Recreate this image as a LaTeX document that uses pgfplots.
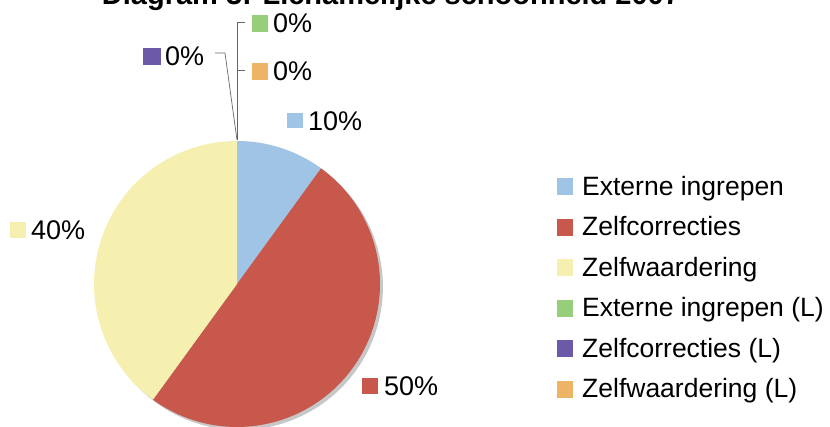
\documentclass[border=0pt]{standalone}
\usepackage{pgfplots}
\pgfplotsset{compat=1.18}
\usepackage{pgfplotstable}
\usepackage{fontspec}
\setmainfont{Liberation Sans}
\definecolor{cBlue}{RGB}{160,196,230}
\definecolor{cRed}{RGB}{200,88,76}
\definecolor{cYellow}{RGB}{246,240,176}
\definecolor{cGreen}{RGB}{150,206,122}
\definecolor{cPurple}{RGB}{108,90,168}
\definecolor{cOrange}{RGB}{238,180,102}
\pgfplotstableread{
label value
ext 10
zelf 50
waard 40
extL 0
zelfL 0
waardL 0
}\piedata
\begin{document}
\begin{tikzpicture}
\path[use as bounding box] (0,0) rectangle (830pt,427pt);
\pgfplotstablegetelem{0}{value}\of\piedata \let\vA\pgfplotsretval
\pgfplotstablegetelem{1}{value}\of\piedata \let\vB\pgfplotsretval
\pgfplotstablegetelem{2}{value}\of\piedata \let\vC\pgfplotsretval
\pgfmathsetmacro\aA{90}
\pgfmathsetmacro\aB{90-3.6*\vA}
\pgfmathsetmacro\aC{\aB-3.6*\vB}
\pgfmathsetmacro\aD{\aC-3.6*\vC}
\def\cx{237}\def\cy{143}\def\R{143}
\begin{axis}[
  at={(0pt,0pt)}, anchor=south west,
  width=830pt, height=427pt, scale only axis,
  xmin=0, xmax=830, ymin=0, ymax=427,
  hide axis, clip=false,
  legend style={at={(axis cs:554,261)}, anchor=north west, draw=none, fill=none,
    font=\fontsize{26.5}{30}\selectfont,
    nodes={inner sep=1pt, text height=26pt, text depth=12.5pt},
    /tikz/every odd column/.append style={column sep=8pt}},
  legend cell align=left,
  legend image code/.code={\fill[#1, draw=none] (0pt,-7pt) rectangle (16pt,10pt);},
]
% shadow
\addplot[fill=black!22, draw=none, domain=0:360, samples=90, variable=\t, forget plot]
  ({\cx+3+\R*cos(\t)},{\cy-3+\R*sin(\t)}) -- cycle;
\addplot[fill=cBlue, draw=none, domain=\aB:\aA, samples=30, variable=\t]
  ({\cx+\R*cos(\t)},{\cy+\R*sin(\t)}) -- (axis cs:\cx,\cy) -- cycle;
\addlegendentry{Externe ingrepen}
\addplot[fill=cRed, draw=none, domain=\aC:\aB, samples=90, variable=\t]
  ({\cx+\R*cos(\t)},{\cy+\R*sin(\t)}) -- (axis cs:\cx,\cy) -- cycle;
\addlegendentry{Zelfcorrecties}
\addplot[fill=cYellow, draw=none, domain=\aD:\aC, samples=80, variable=\t]
  ({\cx+\R*cos(\t)},{\cy+\R*sin(\t)}) -- (axis cs:\cx,\cy) -- cycle;
\addlegendentry{Zelfwaardering}
\addlegendimage{fill=cGreen}
\addlegendentry{Externe ingrepen (L)}
\addlegendimage{fill=cPurple}
\addlegendentry{Zelfcorrecties (L)}
\addlegendimage{fill=cOrange}
\addlegendentry{Zelfwaardering (L)}
% leader lines
\draw[black!60, line width=0.7pt] (axis cs:237,287) -- (axis cs:237,405) -- (axis cs:245,405);
\draw[black!60, line width=0.7pt] (axis cs:237,357) -- (axis cs:245,357);
\draw[black!60, line width=0.7pt] (axis cs:237,287) -- (axis cs:225,374) -- (axis cs:215,374);
% data labels
\begin{scope}[every node/.style={font=\fontsize{27}{30}\selectfont, inner sep=0pt}]
\fill[cGreen] (axis cs:252,395) rectangle (axis cs:268,412);
\node[anchor=west] at (axis cs:273,404) {0\%};
\fill[cOrange] (axis cs:252,347) rectangle (axis cs:268,364);
\node[anchor=west] at (axis cs:273,356) {0\%};
\fill[cPurple] (axis cs:143,362) rectangle (axis cs:161,379);
\node[anchor=west] at (axis cs:165,371) {0\%};
\fill[cBlue] (axis cs:287,299) rectangle (axis cs:303,314);
\node[anchor=west] at (axis cs:308,306) {10\%};
\fill[cYellow] (axis cs:10,189) rectangle (axis cs:26,205);
\node[anchor=west] at (axis cs:31,197) {40\%};
\fill[cRed] (axis cs:362,33) rectangle (axis cs:378,49);
\node[anchor=west] at (axis cs:384,41) {50\%};
\end{scope}
\node[font=\fontsize{29}{32}\selectfont\bfseries, anchor=base] at (axis cs:391,422) {Diagram 3: Lichamelijke schoonheid 2007};
\end{axis}
\end{tikzpicture}
\end{document}
